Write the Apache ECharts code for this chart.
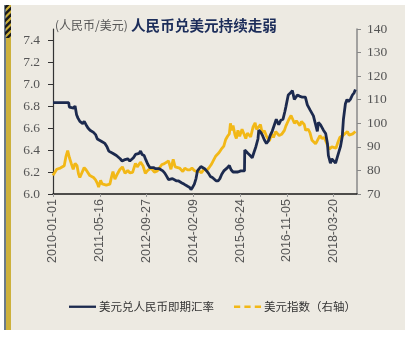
<!DOCTYPE html>
<html><head><meta charset="utf-8">
<script src="https://cdn.jsdelivr.net/npm/echarts@6/dist/echarts.min.js"></script>
<style>html,body{margin:0;padding:0;background:#fff}#c{width:412px;height:341px}</style>
</head><body><div id="c"></div>
<script>
// X-axis tick labels (every 500 days from 2010-01-01)
var tickLabels = ['2010-01-01','2011-05-16','2012-09-27','2014-02-09','2015-06-24','2016-11-05','2018-03-20'];
var leftTicks = ['6.0','6.2','6.4','6.6','6.8','7.0','7.2','7.4'];
var rightTicks = [70,80,90,100,110,120,130,140];

// USD/CNY spot
var cnyDates = ['2010-01-01','2010-02-01','2010-03-01','2010-04-01','2010-05-01','2010-06-18','2010-06-25','2010-07-15','2010-08-10','2010-08-25','2010-09-10','2010-09-25','2010-10-15','2010-11-01','2010-11-15','2010-12-01','2010-12-20',
'2011-01-10','2011-02-01','2011-02-20','2011-03-10','2011-04-01','2011-04-20','2011-05-10','2011-06-01','2011-06-20','2011-07-10','2011-08-01','2011-08-20','2011-09-10','2011-10-01','2011-10-20','2011-11-10','2011-12-01','2011-12-20',
'2012-01-10','2012-02-01','2012-02-20','2012-03-10','2012-04-01','2012-04-20','2012-05-10','2012-06-01','2012-06-20','2012-07-10','2012-07-25','2012-08-10','2012-09-01','2012-09-20','2012-10-10','2012-11-01','2012-11-20','2012-12-10',
'2013-01-01','2013-01-20','2013-02-10','2013-03-01','2013-03-20','2013-04-10','2013-05-01','2013-05-20','2013-06-10','2013-07-01','2013-07-20','2013-08-10','2013-09-01','2013-09-20','2013-10-10','2013-11-01','2013-11-20','2013-12-10',
'2014-01-01','2014-01-15','2014-02-01','2014-02-20','2014-03-10','2014-03-25','2014-04-15','2014-05-01','2014-05-20','2014-06-10','2014-07-01','2014-07-20','2014-08-10','2014-09-01','2014-09-20','2014-10-10','2014-11-01','2014-11-20','2014-12-10',
'2015-01-01','2015-01-20','2015-02-10','2015-03-01','2015-03-20','2015-04-10','2015-05-01','2015-06-01','2015-07-01','2015-08-10','2015-08-13','2015-08-25','2015-09-15','2015-10-10','2015-11-01','2015-11-20','2015-12-10',
'2016-01-01','2016-01-10','2016-02-01','2016-02-20','2016-03-10','2016-04-01','2016-04-20','2016-05-10','2016-06-01','2016-06-25','2016-07-15','2016-08-10','2016-09-01','2016-09-25','2016-10-15','2016-10-25','2016-11-20','2016-12-15',
'2017-01-03','2017-01-24','2017-02-10','2017-02-25','2017-03-20','2017-04-20','2017-05-22','2017-06-12','2017-07-14','2017-08-16','2017-09-06','2017-09-27','2017-10-08','2017-10-30','2017-11-20','2017-12-01','2017-12-25',
'2018-01-13','2018-01-23','2018-02-14','2018-03-01','2018-03-18','2018-04-10','2018-04-30','2018-06-01','2018-06-20','2018-07-03','2018-07-24','2018-08-10','2018-08-25','2018-09-15','2018-10-07','2018-10-25','2018-11-08'];
var cnyValues = [6.83,6.83,6.83,6.83,6.83,6.83,6.79,6.78,6.78,6.80,6.72,6.69,6.66,6.67,6.64,6.66,6.63,
6.60,6.58,6.57,6.56,6.54,6.50,6.49,6.48,6.47,6.46,6.43,6.39,6.39,6.37,6.36,6.35,6.36,6.32,
6.30,6.31,6.30,6.32,6.30,6.31,6.33,6.36,6.35,6.37,6.39,6.36,6.35,6.31,6.27,6.24,6.23,6.24,
6.23,6.22,6.23,6.22,6.21,6.19,6.16,6.13,6.14,6.14,6.13,6.12,6.12,6.12,6.10,6.09,6.09,6.07,
6.06,6.04,6.06,6.09,6.14,6.21,6.22,6.25,6.24,6.23,6.21,6.19,6.16,6.15,6.14,6.12,6.12,6.14,6.18,
6.21,6.22,6.24,6.26,6.22,6.20,6.20,6.20,6.21,6.21,6.40,6.41,6.37,6.35,6.33,6.38,6.43,
6.50,6.58,6.56,6.53,6.49,6.46,6.48,6.53,6.57,6.63,6.68,6.63,6.67,6.68,6.75,6.79,6.90,6.92,
6.94,6.86,6.88,6.90,6.89,6.88,6.88,6.81,6.76,6.71,6.64,6.57,6.65,6.63,6.63,6.58,6.55,
6.46,6.35,6.28,6.32,6.31,6.28,6.34,6.43,6.52,6.68,6.82,6.86,6.84,6.86,6.90,6.92,6.95];

// US dollar index (right axis)
var dxyDates = ['2010-01-01','2010-01-20','2010-02-10','2010-03-01','2010-03-20','2010-04-10','2010-05-01','2010-05-20','2010-06-07','2010-06-25','2010-07-15','2010-08-05','2010-08-25','2010-09-15','2010-10-01','2010-10-15','2010-11-04','2010-11-30','2010-12-20',
'2011-01-10','2011-01-30','2011-02-20','2011-03-10','2011-04-01','2011-04-20','2011-05-04','2011-05-25','2011-06-10','2011-07-01','2011-07-25','2011-08-10','2011-09-01','2011-09-20','2011-10-04','2011-10-25','2011-11-20','2011-12-15',
'2012-01-13','2012-02-10','2012-03-10','2012-04-01','2012-05-01','2012-05-31','2012-06-20','2012-07-24','2012-08-20','2012-09-14','2012-10-10','2012-11-15','2012-12-20',
'2013-01-20','2013-02-10','2013-03-10','2013-04-01','2013-04-20','2013-05-20','2013-06-15','2013-07-09','2013-07-30','2013-08-20','2013-09-15','2013-10-20','2013-11-10','2013-12-10',
'2014-01-01','2014-01-25','2014-02-20','2014-03-15','2014-04-10','2014-05-08','2014-06-01','2014-07-01','2014-07-25','2014-08-20','2014-09-15','2014-10-05','2014-10-20','2014-11-10','2014-12-05',
'2015-01-01','2015-01-20','2015-02-10','2015-03-01','2015-03-13','2015-03-25','2015-04-10','2015-05-01','2015-05-15','2015-06-01','2015-06-20','2015-07-15','2015-08-05','2015-08-24','2015-09-10','2015-10-15','2015-11-10','2015-12-02','2015-12-15',
'2016-01-10','2016-01-28','2016-02-15','2016-03-10','2016-04-01','2016-05-03','2016-05-25','2016-06-15','2016-07-10','2016-08-15','2016-09-10','2016-10-10','2016-10-25','2016-11-10','2016-11-25','2016-12-20',
'2017-01-03','2017-01-25','2017-02-15','2017-03-01','2017-03-25','2017-04-10','2017-05-10','2017-05-25','2017-06-20','2017-07-10','2017-08-01','2017-08-20','2017-09-08','2017-09-25','2017-10-25','2017-11-15','2017-12-10','2017-12-28',
'2018-01-15','2018-02-01','2018-02-15','2018-03-01','2018-03-20','2018-04-15','2018-05-01','2018-05-25','2018-06-15','2018-07-01','2018-07-20','2018-08-15','2018-09-01','2018-09-20','2018-10-10','2018-10-25','2018-11-08'];
var dxyValues = [77.9,78.5,80.5,80.8,81.0,81.3,82.0,86.0,88.4,85.5,83.0,80.5,83.0,82.0,78.5,77.0,76.3,81.2,80.3,
81.0,77.8,77.5,77.0,76.0,74.5,72.9,75.8,74.3,74.5,73.8,74.5,74.2,77.5,79.5,76.3,78.5,80.3,
81.5,78.8,80.0,79.0,79.2,83.0,81.5,83.5,82.0,78.8,80.0,81.0,79.3,
79.8,80.0,82.5,82.8,82.0,84.0,80.5,84.7,81.5,81.5,81.0,79.5,81.0,80.2,
80.2,81.0,80.0,79.5,79.8,79.0,80.5,80.0,81.0,82.5,84.5,86.0,85.3,87.5,89.0,
90.3,93.0,94.5,95.5,100.0,97.0,99.0,95.0,93.5,97.0,94.5,97.5,98.0,93.5,95.8,94.2,98.5,100.2,97.5,
98.5,99.5,96.0,96.8,94.5,92.5,95.5,94.0,96.5,94.8,95.3,97.0,98.8,98.5,101.5,103.3,
103.0,100.0,101.0,101.7,99.0,100.8,99.5,97.0,97.5,96.0,92.8,93.5,91.3,92.5,94.8,93.5,94.0,92.3,
90.5,89.0,88.8,90.0,89.6,89.5,91.5,94.0,94.5,95.0,94.5,96.5,95.0,94.2,95.5,96.0,96.5];

var seriesNames = ['美元兑人民币即期汇率','美元指数（右轴）'];

var DAY = 86400000, BASE = Date.UTC(2010,0,1);
function toDay(s){ var p = s.split('-'); return (Date.UTC(+p[0], +p[1]-1, +p[2]) - BASE)/DAY; }
function pairs(ds, vs){ return ds.map(function(d,i){ return [toDay(d), vs[i]]; }); }
var labelMap = {}; tickLabels.forEach(function(t){ labelMap[toDay(t)] = t; });

var chart = echarts.init(document.getElementById('c'), null, {renderer:'canvas'});
var hatch = [];
for (var k = 0; k < 6; k++) {
  var y0 = 3 + k*6.5;
  hatch.push({type:'polygon', shape:{points:[[5,y0+3],[11,y0-3],[11,y0+0.5],[5,y0+6.5]]}, style:{fill:'#1a1a1a'}, z:2});
}
chart.setOption({
  backgroundColor:'#ffffff',
  animation:false,
  graphic:[
    {type:'rect', shape:{x:4,y:5,width:401,height:325}, style:{fill:'#edeae2'}, z:0},
    {type:'rect', shape:{x:4,y:5,width:2,height:325}, style:{fill:'#6a7a8a'}, z:1},
    {type:'rect', shape:{x:6,y:5,width:5,height:325}, style:{fill:'#cdb13c'}, z:1},
    {type:'group', children:hatch, clipPath:{type:'rect', shape:{x:4,y:5,width:7,height:33}}},
    {type:'text', left:55, top:19, style:{text:'(人民币/美元)', fill:'#555', font:'12px "Noto Sans CJK SC"'}},
    {type:'text', left:131, top:18, style:{text:'人民币兑美元持续走弱', fill:'#1c2d5a', font:'bold 14.6px "Noto Sans CJK SC"'}}
  ],
  grid:{left:53, right:55, top:29, bottom:147},
  legend:{
    left:64, top:296, itemWidth:27, itemHeight:10, itemGap:20,
    textStyle:{color:'#333', fontSize:11.5, fontFamily:'Noto Sans CJK SC', padding:[0,0,0,-2]},
    data:[
      {name:seriesNames[0], icon:'path://M0,0 L28,0 L28,2.4 L0,2.4 Z', itemStyle:{color:'#1c2a4e'}},
      {name:seriesNames[1], icon:'path://M0,0 L6,0 L6,2.4 L0,2.4 Z M10,0 L16,0 L16,2.4 L10,2.4 Z M20,0 L26,0 L26,2.4 L20,2.4 Z', itemStyle:{color:'#f2b817'}}
    ]
  },
  xAxis:{
    type:'value', min:0, max:3250, interval:500,
    axisLine:{lineStyle:{color:'#1a1a1a', width:1.5}},
    axisTick:{show:true, length:3, lineStyle:{color:'#999'}},
    splitLine:{show:false},
    axisLabel:{rotate:90, margin:5, showMaxLabel:false, color:'#555', fontSize:12.5, fontFamily:'Liberation Sans',
      formatter:function(v){ return labelMap[v] || ''; }}
  },
  yAxis:[
    {type:'value', min:6.0, max:7.5, interval:0.2, position:'left',
      axisLine:{show:true, lineStyle:{color:'#333', width:1.2}},
      axisTick:{show:true, length:5, lineStyle:{color:'#333'}},
      splitLine:{show:false},
      axisLabel:{showMaxLabel:false, margin:13, color:'#555', fontSize:13.5, fontFamily:'Liberation Serif',
        formatter:function(v){ var s = v.toFixed(1); return leftTicks.indexOf(s) >= 0 ? s : ''; }}},
    {type:'value', min:70, max:140, interval:10, position:'right',
      axisLine:{show:true, lineStyle:{color:'#888', width:1.5}},
      axisTick:{show:true, length:4, lineStyle:{color:'#888'}},
      splitLine:{show:false},
      axisLabel:{margin:10, color:'#555', fontSize:13.5, fontFamily:'Liberation Serif',
        formatter:function(v){ return rightTicks.indexOf(Math.round(v)) >= 0 ? String(Math.round(v)) : ''; }}}
  ],
  series:[
    {name:seriesNames[0], type:'line', yAxisIndex:0, showSymbol:false, symbol:'none', z:3,
      lineStyle:{color:'#1c2a4e', width:2.8}, itemStyle:{color:'#1c2a4e'}, data:pairs(cnyDates, cnyValues)},
    {name:seriesNames[1], type:'line', yAxisIndex:1, showSymbol:false, symbol:'none', z:2,
      lineStyle:{color:'#f2b817', width:2.8}, itemStyle:{color:'#f2b817'}, data:pairs(dxyDates, dxyValues)}
  ]
});
</script></body></html>
